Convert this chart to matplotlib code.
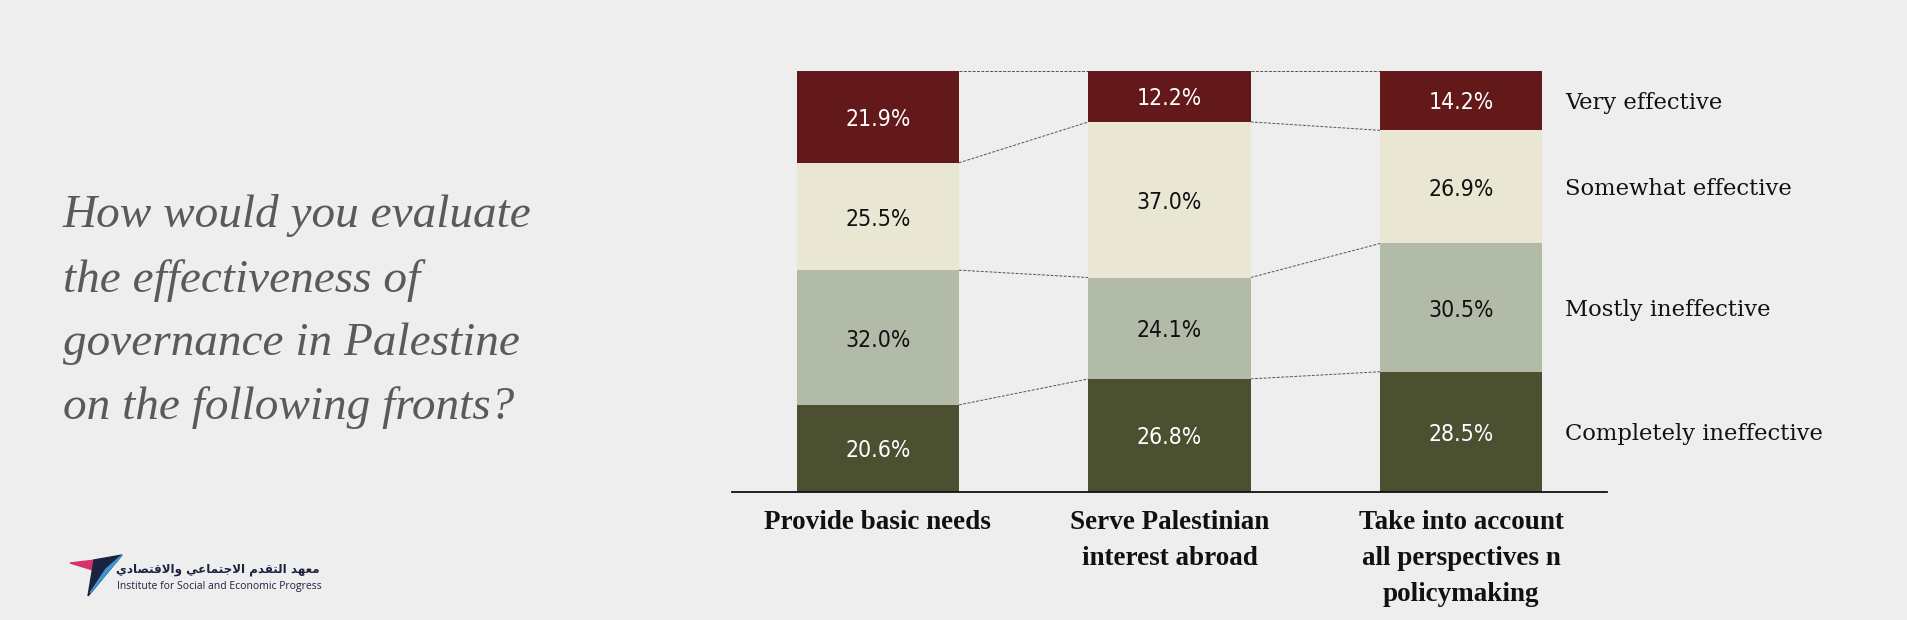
import matplotlib
matplotlib.use("Agg")
import matplotlib.pyplot as plt
import numpy as np

# survey data (percent of respondents)
fronts = ["Provide basic needs",
          "Serve Palestinian\ninterest abroad",
          "Take into account\nall perspectives n\npolicymaking"]
levels = ["Completely ineffective", "Mostly ineffective",
          "Somewhat effective", "Very effective"]
completely_ineffective = [20.6, 26.8, 28.5]
mostly_ineffective = [32.0, 24.1, 30.5]
somewhat_effective = [25.5, 37.0, 26.9]
very_effective = [21.9, 12.2, 14.2]

title = "How would you evaluate\nthe effectiveness of\ngovernance in Palestine\non the following fronts?"

colors = ["#4a5030", "#b2bba8", "#e9e7d3", "#631819"]
text_colors = ["white", "#111111", "#111111", "white"]
BG = "#eeeeee"

series = np.array([completely_ineffective, mostly_ineffective,
                   somewhat_effective, very_effective])
# bars are drawn as 100% stacks
shares = series / series.sum(axis=0) * 100
bottoms = np.vstack([np.zeros(3), np.cumsum(shares, axis=0)[:-1]])
tops = bottoms + shares

fig = plt.figure(figsize=(19.08, 6.2), dpi=100, facecolor=BG)
ax = fig.add_axes([732 / 1908, 128.4 / 620, 875 / 1908, 421 / 620])
ax.set_facecolor(BG)

x = np.arange(len(fronts))
w = 0.556
for j in range(len(levels)):
    ax.bar(x, shares[j], w, bottom=bottoms[j], color=colors[j], linewidth=0, zorder=2)
    for i in range(len(fronts)):
        ax.text(x[i], bottoms[j][i] + shares[j][i] / 2 - 0.6, "%.1f%%" % series[j][i],
                ha="center", va="center", color=text_colors[j],
                fontsize=16.5, family="DejaVu Sans", stretch="condensed", zorder=3)
    # series name next to the last bar
    ax.text(x[-1] + w / 2 + 0.078, bottoms[j][-1] + shares[j][-1] / 2 - 0.6, levels[j],
            ha="left", va="center", fontsize=16.3, family="DejaVu Serif",
            color="#111111", clip_on=False)

# dashed connectors between bars
for j in range(len(levels)):
    for i in range(len(fronts) - 1):
        ax.plot([x[i] + w / 2, x[i + 1] - w / 2], [tops[j][i], tops[j][i + 1]],
                color="#555555", lw=0.7, ls=(0, (3, 1.5)), zorder=1)

ax.set_xlim(-0.5, 2.5)
ax.set_ylim(0, 100)
ax.set_yticks([])
ax.set_xticks(x)
ax.set_xticklabels(fronts, fontsize=19.5, fontweight="bold",
                   family="Liberation Serif", linespacing=1.6, color="#111111")
ax.tick_params(axis="x", length=0, pad=13)
for s in ["top", "left", "right"]:
    ax.spines[s].set_visible(False)
ax.spines["bottom"].set_linewidth(1.3)
ax.spines["bottom"].set_color("#111111")

fig.text(63 / 1908, 0.497, title, ha="left", va="center", fontsize=34,
         family="Liberation Serif", style="italic", color="#5a5a5a",
         linespacing=1.65)

# institute logo
lax = fig.add_axes([68 / 1908, 22 / 620, 60 / 1908, 45 / 620])
lax.set_xlim(0, 60)
lax.set_ylim(45, 0)
lax.axis("off")
lax.fill([2, 36, 28], [10, 6, 18], color="#d6336c")
lax.fill([26, 54, 20], [7, 2, 43], color="#1c2340")
lax.fill([54, 38, 22], [2, 16, 40], color="#3c97d3")

# arabic name in presentation forms, reversed for left-to-right drawing
arabic = ("\ufee3\ufecc\ufeec\ufeaa \ufe8d\ufedf\ufe98\ufed8\ufeaa\ufee1 "
          "\ufe8d\ufefb\ufe9f\ufe98\ufee4\ufe8e\ufecb\ufef2 "
          "\ufeed\ufe8d\ufefb\ufed7\ufe98\ufebc\ufe8e\ufea9\ufef1")
fig.text(320 / 1908, 1 - 570 / 620, arabic[::-1], ha="right", va="center",
         fontsize=8.6, family="DejaVu Sans", fontweight="bold", color="#1c2340")
fig.text(117 / 1908, 1 - 586 / 620, "Institute for Social and Economic Progress",
         ha="left", va="center", fontsize=7.5, family="Open Sans",
         color="#1c2340")

fig.savefig("out.png", dpi=100, facecolor=BG)
